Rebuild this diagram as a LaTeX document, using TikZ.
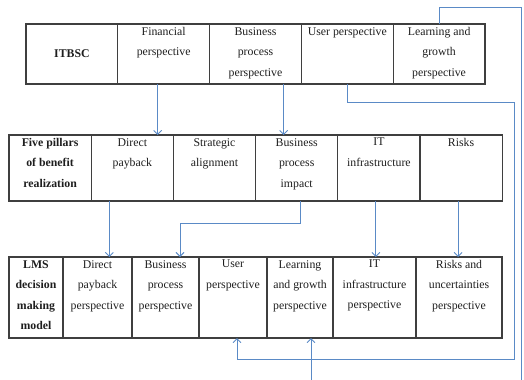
\documentclass[tikz,border=0pt]{standalone}
\usepackage{fontspec}
\setmainfont{Liberation Serif}
\usepackage{xcolor}
\usetikzlibrary{positioning,arrows.meta}
\definecolor{boxline}{HTML}{3F3F3F}
\definecolor{linkblue}{HTML}{5A8AC6}
\definecolor{ink}{HTML}{1E1E1E}

\begin{document}
\begin{tikzpicture}[x=1bp,y=-1bp,
  cell/.style={rectangle,draw=boxline,line width=1.1bp,outer sep=0pt,inner sep=0pt,anchor=north west,minimum height=#1},
  txt/.style={anchor=north,align=center,inner sep=0pt,yshift=-3bp,text=ink,font=\fontsize{11.8bp}{20.5bp}\selectfont},
  bold/.style={txt,font=\fontsize{11.8bp}{20.5bp}\selectfont\bfseries},
  link/.style={draw=linkblue,line width=0.9bp,-{Straight Barb[length=4bp,width=8bp]}}]
  \useasboundingbox (0,0) rectangle (524,379);
  \clip (0,0) rectangle (524,379);
  % ITBSC row
  \node (itbsc) [cell=60bp,minimum width=91.8bp,text=ink,font=\fontsize{11.8bp}{20.5bp}\selectfont\bfseries] at (26,24) {ITBSC};
  \node (fin) [cell=60bp,minimum width=91.8bp,right=0pt of itbsc,label={[txt]north:Financial\\perspective}] {};
  \node (bpp) [cell=60bp,minimum width=91.8bp,right=0pt of fin,label={[txt]north:Business\\process\\perspective}] {};
  \node (user) [cell=60bp,minimum width=91.8bp,right=0pt of bpp,label={[txt]north:User perspective}] {};
  \node (learn) [cell=60bp,minimum width=91.8bp,right=0pt of user,label={[txt]north:Learning and\\growth\\perspective}] {};
  % pillars row
  \node (pillars) [cell=66bp,minimum width=82.2bp,label={[bold]north:Five pillars\\of benefit\\realization}] at (9,135) {};
  \node (pdirect) [cell=66bp,minimum width=82.2bp,right=0pt of pillars,label={[txt]north:Direct\\payback}] {};
  \node (palign) [cell=66bp,minimum width=82.2bp,right=0pt of pdirect,label={[txt]north:Strategic\\alignment}] {};
  \node (pimpact) [cell=66bp,minimum width=82.2bp,right=0pt of palign,label={[txt]north:Business\\process\\impact}] {};
  \node (pit) [cell=66bp,minimum width=82.2bp,right=0pt of pimpact,label={[txt]north:IT\\infrastructure}] {};
  \node (prisk) [cell=66bp,minimum width=82.2bp,right=0pt of pit,label={[txt]north:Risks}] {};
  % LMS row
  \node (lms) [cell=81bp,minimum width=54bp,label={[bold]north:LMS\\decision\\making\\model}] at (9,257) {};
  \node (ldirect) [cell=81bp,minimum width=69bp,right=0pt of lms,label={[txt]north:Direct\\payback\\perspective}] {};
  \node (lbpp) [cell=81bp,minimum width=67bp,right=0pt of ldirect,label={[txt]north:Business\\process\\perspective}] {};
  \node (luser) [cell=81bp,minimum width=68bp,right=0pt of lbpp,label={[txt]north:User\\perspective}] {};
  \node (llearn) [cell=81bp,minimum width=66bp,right=0pt of luser,label={[txt]north:Learning\\and growth\\perspective}] {};
  \node (lit) [cell=81bp,minimum width=83bp,right=0pt of llearn,label={[txt]north:IT\\infrastructure\\perspective}] {};
  \node (lrisk) [cell=81bp,minimum width=86bp,right=0pt of lit,label={[txt]north:Risks and\\uncertainties\\perspective}] {};
  \coordinate (eastA) at (514,102);
  \coordinate (eastB) at (521,7);
  % connectors
  \draw[link] ([xshift=-6bp]fin.south) -- ([xshift=-6bp]fin.south |- pdirect.north);
  \draw[link] ([xshift=-13bp]pimpact.north |- bpp.south) -- ([xshift=-13bp]pimpact.north);
  \draw[link] (user.south) |- (eastA) |- ([xshift=4bp,yshift=-21bp]luser.south) -- ([xshift=4bp]luser.south);
  \draw[link] (learn.north) |- (eastB) |- ([xshift=11bp,yshift=-60bp]llearn.south) -- ([xshift=11bp]llearn.south);
  \draw[link] ([xshift=-23bp]pdirect.south) -- ([xshift=-23bp]pdirect.south |- ldirect.north);
  \draw[link] ([xshift=4bp]pimpact.south) -- ++(0,22) -| ([xshift=14.5bp]lbpp.north);
  \draw[link] ([xshift=-3bp]pit.south) -- ([xshift=-3bp]pit.south |- lit.north);
  \draw[link] ([xshift=-3bp]prisk.south) -- ([xshift=-3bp]prisk.south |- lrisk.north);
\end{tikzpicture}
\end{document}
